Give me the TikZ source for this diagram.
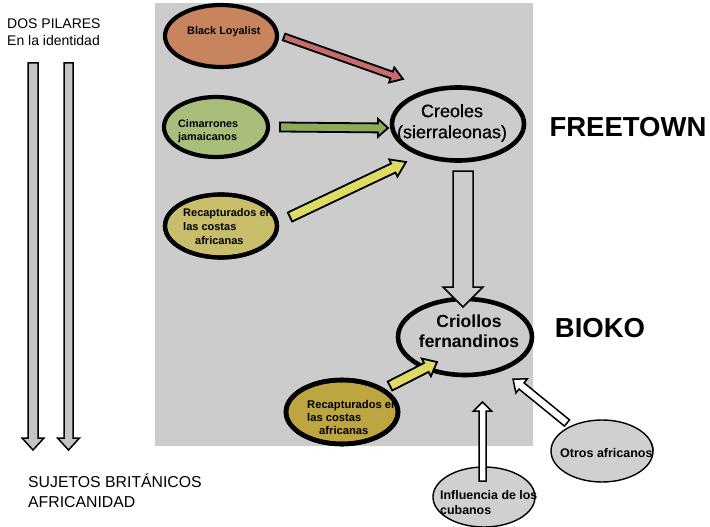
\documentclass[tikz,border=0pt]{standalone}
\usepackage{fontspec}
\setmainfont{Liberation Sans}
\newfontfamily\medfont[FakeBold=0.6]{Liberation Sans}
\usetikzlibrary{calc,shapes.geometric}
\definecolor{bgc}{HTML}{CCCCCC}
\definecolor{blfill}{HTML}{C8845F}
\definecolor{blarr}{HTML}{C86B6B}
\definecolor{cimfill}{HTML}{A9BE7B}
\definecolor{cimarr}{HTML}{8CAB5A}
\definecolor{recfill}{HTML}{C8BD6A}
\definecolor{recarr}{HTML}{DCDC64}
\definecolor{rectwofill}{HTML}{BDA540}
\definecolor{thinfill}{HTML}{D0D0D0}
\definecolor{pillarfill}{HTML}{C4C4C4}
\newcommand\blockarrow[7]{%
  \path let \p1=(#1), \p2=(#2),
     \n1={atan2(\y2-\y1,\x2-\x1)},
     \n2={veclen(\x2-\x1,\y2-\y1)} in
     \pgfextra{\xdef\baAng{\n1}\xdef\baLen{\n2}\xdef\baX{\x1}\xdef\baY{\y1}};
  \begin{scope}[shift={(\baX,\baY)}, rotate=\baAng]
    \draw[fill=#3, line width=#7, line join=miter]
      (0pt,{-#4pt}) -- ({\baLen-#6pt},{-#4pt}) -- ({\baLen-#6pt},{-#5pt})
      -- ({\baLen},0pt) -- ({\baLen-#6pt},{#5pt}) -- ({\baLen-#6pt},{#4pt})
      -- (0pt,{#4pt}) -- cycle;
  \end{scope}}
\tikzset{
  oval/.style={ellipse, draw=black, inner sep=0pt},
  thick oval/.style={oval, line width=4.2pt},
  thin oval/.style={oval, line width=1.4pt, fill=thinfill},
  lbl/.style={align=left, inner sep=0pt, font=\bfseries\fontsize{10.9}{13}\selectfont},
}
\begin{document}
\begin{tikzpicture}[x=1pt,y=-1pt]
\useasboundingbox (0,0) rectangle (710,527);
\fill[white] (0,0) rectangle (710,527);
\fill[bgc] (155,3) rectangle (533,446);

% ellipses
\node[thick oval, fill=blfill, minimum width=112pt, minimum height=62pt] (bl) at (221,36) {};
\node[thick oval, fill=cimfill, minimum width=104pt, minimum height=60pt] (cim) at (216,127) {};
\node[thick oval, fill=recfill, minimum width=112pt, minimum height=63pt] (rec) at (221,226) {};
\node[thick oval, line width=4.6pt, fill=bgc, minimum width=132pt, minimum height=73pt] (cre) at (458,124) {};
\node[thick oval, line width=4.6pt, fill=bgc, minimum width=134pt, minimum height=76pt] (cri) at (465,337) {};
\node[thick oval, line width=4.6pt, fill=rectwofill, minimum width=112pt, minimum height=64pt] (rectwo) at (342,412) {};
\node[thin oval, minimum width=102pt, minimum height=62pt] (otr) at (602,451) {};
\node[thin oval, minimum width=102pt, minimum height=60pt] (inf) at (484,497) {};

% labels
\node[lbl, anchor=west] (tbl) at (187,32) {Black Loyalist};
\node[lbl, anchor=west, font=\bfseries\fontsize{10.8}{13}\selectfont] (tcim) at (178,131) {Cimarrones\\jamaicanos};
\node[lbl, anchor=west, font=\bfseries\fontsize{11}{14}\selectfont] (trec) at (183,227) {Recapturados en\\las costas\\\hspace*{12pt}africanas};
\node[align=center, inner sep=0pt, font=\medfont\fontsize{18}{21}\selectfont] (tcre) at (452,123) {Creoles\\(sierraleonas)};
\node[align=center, inner sep=0pt, font=\bfseries\fontsize{17.5}{20}\selectfont] (tcri) at (469,331) {Criollos\\fernandinos};
\node[lbl, anchor=west, font=\bfseries\fontsize{11.2}{13}\selectfont] (trectwo) at (307,417) {Recapturados en\\las costas\\\hspace*{12pt}africanas};
\node[lbl, anchor=west, font=\bfseries\fontsize{12.5}{15}\selectfont] (totr) at (560,453) {Otros africanos};
\node[lbl, anchor=west, font=\bfseries\fontsize{12.4}{15}\selectfont] (tinf) at (440,503) {Influencia de los\\cubanos};

% borders that overlap the clipped labels
\draw[line width=4.2pt] (rec.center) ellipse [x radius=56pt, y radius=31.5pt];
\draw[line width=4.6pt] (rectwo.center) ellipse [x radius=56pt, y radius=32pt];
\draw[line width=1.4pt] (otr.center) ++(51pt,0pt) arc [start angle=0, end angle=15, x radius=51pt, y radius=31pt];

\node[inner sep=0pt, font=\bfseries\fontsize{27.5}{30}\selectfont] (free) at (628,127) {FREETOWN};
\node[inner sep=0pt, font=\bfseries\fontsize{27.5}{30}\selectfont] (bio) at (600,328) {BIOKO};
\node[align=left, inner sep=0pt, anchor=west, font=\fontsize{14}{17}\selectfont] (dos) at (7,32) {DOS PILARES\\En la identidad};
\node[align=left, inner sep=0pt, anchor=west, font=\fontsize{15.8}{20}\selectfont] (suj) at (28,491) {SUJETOS BRITÁNICOS\\AFRICANIDAD};

% arrow endpoints
\coordinate (p1s) at (33,63);  \coordinate (p1e) at (33,450);
\coordinate (p2s) at (68.5,63); \coordinate (p2e) at (68.5,450);
\coordinate (a1s) at (284,37);  \coordinate (a1e) at (403,79);
\coordinate (a2s) at (280,127); \coordinate (a2e) at (388,128);
\coordinate (a3s) at (290,217); \coordinate (a3e) at (406,162);
\coordinate (a4s) at (463,171); \coordinate (a4e) at (463,307);
\coordinate (a5s) at (390,386); \coordinate (a5e) at (437,362);
\coordinate (a6s) at (482.5,481); \coordinate (a6e) at (482.5,402);
\coordinate (a7s) at (567,423); \coordinate (a7e) at (513,379);

% arrows
\blockarrow{p1s}{p1e}{pillarfill}{5}{11}{12}{1.5pt}
\blockarrow{p2s}{p2e}{pillarfill}{4.5}{11}{12}{1.5pt}
\blockarrow{a1s}{a1e}{blarr}{3.5}{8}{12}{1.8pt}
\blockarrow{a2s}{a2e}{cimarr}{4.5}{9}{10}{1.8pt}
\blockarrow{a3s}{a3e}{recarr}{5}{9.5}{14}{1.8pt}
\blockarrow{a4s}{a4e}{bgc}{10}{20}{20}{1.5pt}
\blockarrow{a5s}{a5e}{recarr}{5}{10}{12}{1.8pt}
\blockarrow{a6s}{a6e}{white}{3.5}{9}{9}{1.5pt}
\blockarrow{a7s}{a7e}{white}{4}{9}{11}{1.5pt}
\end{tikzpicture}
\end{document}
